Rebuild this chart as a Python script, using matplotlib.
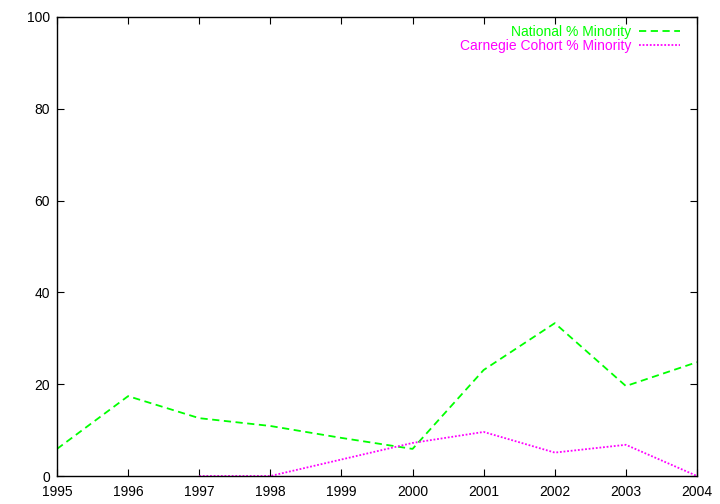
import matplotlib
matplotlib.use("Agg")
import matplotlib.pyplot as plt

years = [1995, 1996, 1997, 1998, 1999, 2000, 2001, 2002, 2003, 2004]
national = [5.9, 17.4, 12.6, 10.9, 8.3, 5.9, 23.1, 33.3, 19.6, 24.8]
carnegie_years = [1997, 1998, 1999, 2000, 2001, 2002, 2003, 2004]
carnegie = [0.0, 0.0, 3.6, 7.2, 9.6, 5.1, 6.8, 0.0]

plt.rcParams["font.family"] = ["Liberation Sans", "DejaVu Sans"]
plt.rcParams["font.size"] = 10

fig = plt.figure(figsize=(7.2, 5.04), dpi=100)
ax = fig.add_axes([57 / 720, 28 / 504, 640 / 720, 459 / 504])

ax.plot(years, national, color="#00ff00", lw=1.3, ls=(0, (4, 2.5)), label="National % Minority")
ax.plot(carnegie_years, carnegie, color="#ff00ff", lw=1.3, ls=(0, (1, 1)), label="Carnegie Cohort % Minority")

ax.set_xlim(1995, 2004)
ax.set_ylim(0, 100)
ax.set_xticks(years)
ax.set_yticks(range(0, 101, 20))
ax.tick_params(direction="in", top=True, right=True, length=5, width=0.8, pad=5)
ax.tick_params(axis="x", pad=6.5)
for s in ax.spines.values():
    s.set_linewidth(1.0)

# gnuplot-style key: text on the left, sample on the right
leg = ax.legend(loc="upper right", bbox_to_anchor=(0.986, 1.0), frameon=False, markerfirst=False,
                handlelength=2.9, handletextpad=0.6, borderaxespad=0.2, labelspacing=0.0,
                labelcolor="linecolor", fontsize=10)

plt.savefig("out.png", dpi=100)
